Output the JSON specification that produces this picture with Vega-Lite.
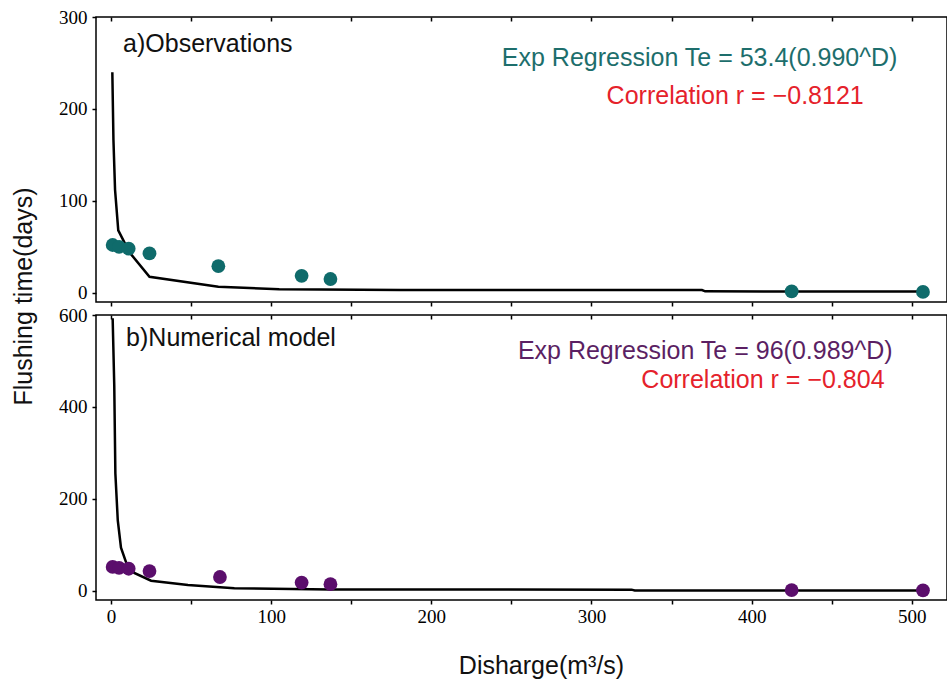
{
  "$schema": "https://vega.github.io/schema/vega-lite/v6.json",
  "background": "white",
  "padding": {"left": 10, "top": -1, "right": 0, "bottom": 0},
  "bounds": "flush",
  "spacing": 13,
  "datasets": {
    "obs": [
      {"D": 1, "T": 52}, {"D": 5, "T": 50}, {"D": 11, "T": 48}, {"D": 24, "T": 43},
      {"D": 67, "T": 29}, {"D": 119, "T": 18.5}, {"D": 137, "T": 15}, {"D": 425, "T": 1.5}, {"D": 507, "T": 1}
    ],
    "model": [
      {"D": 1, "T": 52}, {"D": 5, "T": 50}, {"D": 11, "T": 48}, {"D": 24, "T": 43},
      {"D": 68, "T": 30}, {"D": 119, "T": 18}, {"D": 137, "T": 14.5}, {"D": 425, "T": 1.5}, {"D": 507, "T": 1}
    ],
    "obsfit": [
      {"D": 0.8, "T": 240}, {"D": 1.5, "T": 166}, {"D": 2.5, "T": 112}, {"D": 4.5, "T": 68},
      {"D": 11.5, "T": 44}, {"D": 24, "T": 17.5}, {"D": 67, "T": 6.5}, {"D": 105, "T": 4},
      {"D": 181, "T": 3}, {"D": 369, "T": 3}, {"D": 371, "T": 1.6}, {"D": 507, "T": 1.3}
    ],
    "modelfit": [
      {"D": 1, "T": 593}, {"D": 2, "T": 447}, {"D": 2.7, "T": 255}, {"D": 4.2, "T": 153},
      {"D": 6.2, "T": 94}, {"D": 9.4, "T": 62}, {"D": 14.5, "T": 39}, {"D": 25, "T": 22},
      {"D": 48, "T": 12.4}, {"D": 77, "T": 5.5}, {"D": 137, "T": 3}, {"D": 325, "T": 2.5},
      {"D": 327, "T": 0.8}, {"D": 507, "T": 0.5}
    ]
  },
  "vconcat": [
    {
      "width": 851,
      "height": 285,
      "resolve": {"axis": {"x": "independent"}},
      "layer": [
        {
          "data": {"name": "obsfit"},
          "mark": {"type": "line", "color": "black", "strokeWidth": 2.5},
          "encoding": {
            "x": {"field": "D", "type": "quantitative",
              "scale": {"domain": [-9.4, 522], "nice": false, "zero": false},
              "axis": {"orient": "bottom", "values": [0, 50, 100, 150, 200, 250, 300, 350, 400, 450, 500], "labelExpr": "''", "title": null, "tickSize": 4}},
            "y": {"field": "T", "type": "quantitative",
              "scale": {"domain": [-10, 300], "nice": false, "zero": false},
              "axis": {"values": [0, 100, 200, 300], "tickSize": 4, "labelPadding": 5,
                "title": "Flushing time(days)", "titleX": -73, "titleY": 279,
                "titleAngle": -90, "titleAlign": "center", "titleBaseline": "middle"}}
          }
        },
        {
          "data": {"name": "obs"},
          "mark": {"type": "circle", "color": "#0f6b6b", "opacity": 1, "size": 190},
          "encoding": {
            "x": {"field": "D", "type": "quantitative",
              "axis": {"orient": "top", "values": [0, 50, 100, 150, 200, 250, 300, 350, 400, 450, 500], "labelExpr": "''", "title": null, "tickSize": -4}},
            "y": {"field": "T", "type": "quantitative"}
          }
        },
        {
          "data": {"values": [{"label": "a)Observations"}]},
          "mark": {"type": "text", "align": "left", "baseline": "middle", "fontSize": 25, "color": "#111111"},
          "encoding": {
            "x": {"datum": 7.5, "type": "quantitative", "axis": null},
            "y": {"datum": 270.6, "type": "quantitative"},
            "text": {"field": "label"}
          }
        },
        {
          "data": {"values": [{"label": "Exp Regression Te = 53.4(0.990^D)"}]},
          "mark": {"type": "text", "align": "right", "baseline": "middle", "fontSize": 25, "color": "#1d6e6c"},
          "encoding": {
            "x": {"datum": 491, "type": "quantitative", "axis": null},
            "y": {"datum": 255.4, "type": "quantitative"},
            "text": {"field": "label"}
          }
        },
        {
          "data": {"values": [{"label": "Correlation r = \u22120.8121"}]},
          "mark": {"type": "text", "align": "right", "baseline": "middle", "fontSize": 25, "color": "#e5222b"},
          "encoding": {
            "x": {"datum": 470, "type": "quantitative", "axis": null},
            "y": {"datum": 214, "type": "quantitative"},
            "text": {"field": "label"}
          }
        }
      ]
    },
    {
      "width": 851,
      "height": 285,
      "resolve": {"axis": {"x": "independent"}},
      "layer": [
        {
          "data": {"name": "modelfit"},
          "mark": {"type": "line", "color": "black", "strokeWidth": 2.5},
          "encoding": {
            "x": {"field": "D", "type": "quantitative",
              "scale": {"domain": [-9.4, 522], "nice": false, "zero": false},
              "axis": {"orient": "bottom", "values": [0, 50, 100, 150, 200, 250, 300, 350, 400, 450, 500],
                "labelExpr": "datum.value % 100 === 0 ? datum.label : ''", "tickSize": 4, "labelPadding": 3,
                "title": "Disharge(m\u00b3/s)", "titleX": 445, "titleAlign": "center", "titleY": 65, "titleBaseline": "middle"}},
            "y": {"field": "T", "type": "quantitative",
              "scale": {"domain": [-20, 600], "nice": false, "zero": false},
              "axis": {"values": [0, 200, 400, 600], "tickSize": 4, "labelPadding": 5, "title": null}}
          }
        },
        {
          "data": {"name": "model"},
          "mark": {"type": "circle", "color": "#5b0e6c", "opacity": 1, "size": 190},
          "encoding": {
            "x": {"field": "D", "type": "quantitative",
              "axis": {"orient": "top", "values": [0, 50, 100, 150, 200, 250, 300, 350, 400, 450, 500], "labelExpr": "''", "title": null, "tickSize": -4}},
            "y": {"field": "T", "type": "quantitative"}
          }
        },
        {
          "data": {"values": [{"label": "b)Numerical model"}]},
          "mark": {"type": "text", "align": "left", "baseline": "middle", "fontSize": 25, "color": "#111111"},
          "encoding": {
            "x": {"datum": 9.4, "type": "quantitative", "axis": null},
            "y": {"datum": 550, "type": "quantitative"},
            "text": {"field": "label"}
          }
        },
        {
          "data": {"values": [{"label": "Exp Regression Te = 96(0.989^D)"}]},
          "mark": {"type": "text", "align": "right", "baseline": "middle", "fontSize": 25, "color": "#5b1f63"},
          "encoding": {
            "x": {"datum": 488, "type": "quantitative", "axis": null},
            "y": {"datum": 521.7, "type": "quantitative"},
            "text": {"field": "label"}
          }
        },
        {
          "data": {"values": [{"label": "Correlation r = \u22120.804"}]},
          "mark": {"type": "text", "align": "right", "baseline": "middle", "fontSize": 25, "color": "#e5222b"},
          "encoding": {
            "x": {"datum": 483, "type": "quantitative", "axis": null},
            "y": {"datum": 458.6, "type": "quantitative"},
            "text": {"field": "label"}
          }
        }
      ]
    }
  ],
  "config": {
    "font": "Liberation Sans",
    "view": {"stroke": "black", "strokeWidth": 1.5},
    "axis": {
      "grid": false,
      "domain": false,
      "tickColor": "black",
      "tickWidth": 1.5,
      "labelFont": "Liberation Serif",
      "labelFontSize": 19,
      "labelColor": "black",
      "titleFont": "Liberation Sans",
      "titleFontSize": 25,
      "titleFontWeight": "normal",
      "titleColor": "#111111"
    },
    "text": {"font": "Liberation Sans"}
  }
}
